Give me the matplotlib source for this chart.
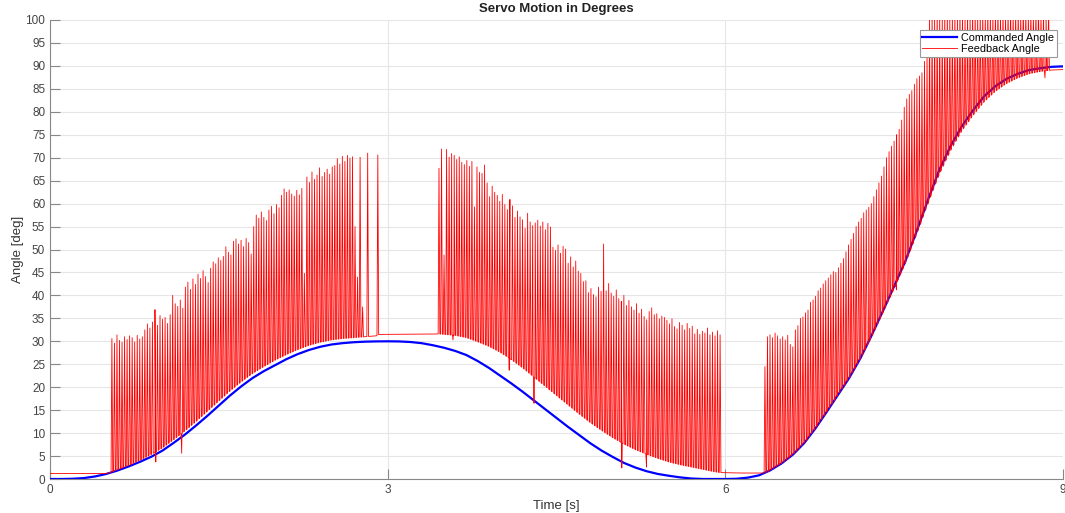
import numpy as np
import matplotlib
matplotlib.use("Agg")
from matplotlib import pyplot as plt

plt.rcParams['font.family'] = ['Liberation Sans', 'DejaVu Sans']

# commanded angle
cmd_time = [0.0, 0.1, 0.2, 0.3, 0.4, 0.5, 0.6, 0.7, 0.8, 0.9, 1.0, 1.1, 1.2, 1.3, 1.4,
            1.5, 1.6, 1.7, 1.8, 1.9, 2.0, 2.1, 2.2, 2.3, 2.4, 2.5, 2.6, 2.7, 2.8, 2.9,
            3.0, 3.1, 3.2, 3.3, 3.4, 3.5, 3.6, 3.7, 3.8, 3.9, 4.0, 4.1, 4.2, 4.3, 4.4,
            4.5, 4.6, 4.7, 4.8, 4.9, 5.0, 5.1, 5.2, 5.3, 5.4, 5.5, 5.6, 5.7, 5.8, 5.9,
            6.0, 6.1, 6.2, 6.3, 6.4, 6.5, 6.6, 6.7, 6.8, 6.9, 7.0, 7.1, 7.2, 7.3, 7.4,
            7.5, 7.6, 7.7, 7.8, 7.9, 8.0, 8.1, 8.2, 8.3, 8.4, 8.5, 8.6, 8.7, 8.8, 8.9, 9.0]
cmd_angle = [0.0, 0.0, 0.05, 0.2, 0.55, 1.1, 1.85, 2.75, 3.75, 4.85, 6.2, 7.9, 9.7, 11.7, 13.8,
             16.0, 18.2, 20.2, 22.0, 23.5, 24.8, 26.1, 27.2, 28.1, 28.8, 29.3, 29.6, 29.8, 29.92, 29.98,
             30.0, 29.97, 29.85, 29.6, 29.15, 28.6, 27.9, 27.0, 25.7, 24.2, 22.5, 20.8, 19.0, 17.1, 15.2,
             13.3, 11.4, 9.6, 7.8, 6.2, 4.8, 3.5, 2.5, 1.7, 1.1, 0.7, 0.35, 0.1, 0.0, 0.0,
             0.0, 0.05, 0.3, 0.8, 1.9, 3.4, 5.3, 7.8, 11.0, 14.6, 18.3, 22.0, 26.3, 31.3, 36.6,
             42.0, 47.5, 54.0, 60.8, 67.3, 72.5, 76.8, 80.3, 83.4, 85.6, 87.2, 88.3, 89.1, 89.5, 89.8, 89.9]

# feedback angle, lower edge of the red trace
fb_time = [0.0, 0.5, 0.55, 0.6, 0.7, 0.8, 0.9, 1.0, 1.1, 1.2, 1.3, 1.4, 1.5, 1.6, 1.7,
           1.8, 1.9, 2.0, 2.1, 2.2, 2.3, 2.4, 2.5, 2.6, 2.7, 2.8, 2.9, 2.92, 3.46,
           3.6, 3.7, 3.8, 3.9, 4.0, 4.1, 4.2, 4.3, 4.4, 4.5, 4.6, 4.7, 4.8, 4.9, 5.0,
           5.1, 5.2, 5.3, 5.4, 5.5, 5.6, 5.7, 5.8, 5.9, 5.95, 6.15, 6.35, 6.4, 6.5,
           6.6, 6.7, 6.8, 6.9, 7.0, 7.1, 7.2, 7.3, 7.4, 7.5, 7.6, 7.7, 7.8, 7.9, 8.0,
           8.1, 8.2, 8.3, 8.4, 8.5, 8.6, 8.7, 8.8, 8.9, 9.0]
fb_angle = [1.2, 1.2, 1.5, 2.0, 2.95, 4.1, 5.35, 6.8, 8.6, 10.5, 12.6, 14.8, 17.0, 19.2, 21.2,
            23.0, 24.5, 25.9, 27.1, 28.2, 29.1, 29.8, 30.3, 30.6, 30.8, 31.0, 31.2, 31.5, 31.6,
            31.3, 30.8, 29.9, 28.9, 27.6, 26.0, 24.2, 22.2, 20.2, 18.2, 16.2, 14.2, 12.3, 10.6, 9.0,
            7.6, 6.4, 5.4, 4.5, 3.7, 3.1, 2.6, 2.1, 1.6, 1.4, 1.3, 1.3, 1.9, 3.4,
            5.3, 7.8, 11.0, 14.6, 18.3, 22.0, 26.2, 31.0, 36.2, 41.5, 47.0, 53.3, 60.0, 66.3, 71.5,
            75.8, 79.2, 82.2, 84.5, 86.2, 87.4, 88.3, 88.8, 89.1, 89.2]

# feedback spike peaks, one per sample (nan = no spike)
spike_period = 0.0225
seg1_start = 0.55
seg1_peaks = [30.6, 29.6, 31.4, 30.2, 29.8, 31.0, 30.4, 31.2, 30.8, 29.9, 31.3, 30.5, 31.0,
              32.5, 33.8, 32.9, 34.2, 36.9,
              33.5, 35.6, 34.8, 35.2, 33.9, 35.8,
              40.0, 38.2, 37.6, 39.0, 37.2,
              41.8, 42.9, 41.3, 43.6, 42.4,
              44.6, 43.7, 45.4, 44.1,
              42.8, 45.9, 47.3,
              46.9, 48.2, 47.6, 48.5,
              50.6, 49.4, 48.8,
              51.8, 52.3, 51.2, 52.0, 50.6, 52.4, 51.5,
              49.0,
              55.0, 57.5, 56.8, 58.2, 57.0, 56.3, 58.6, 59.4, 57.8, 59.8, 59.1,
              61.8, 63.2, 62.5, 63.0, 62.1, 61.6, 62.9, 61.9, 63.3, 44.8,
              65.8, 64.6, 66.9, 65.3, 66.2, 67.8, 65.9, 66.8, 67.5, 66.4, 68.0, 68.3,
              69.8, 68.6, 70.3, 69.2, 70.5, 69.9, 70.2,
              55.0, 44.0, 70.1, 37.5,
              np.nan, 71.0,
              np.nan, np.nan, np.nan, 70.6]
seg2_start = 3.456
seg2_peaks = [67.7, 71.9, 48.8, 71.8, 70.1, 70.9, 70.5, 69.6, 70.2, 69.0, 68.5, 69.4, 68.1,
              69.2, 59.3, 68.0, 66.8,
              66.6, 68.4, 64.5, 61.5, 63.8, 62.5,
              61.8, 60.5, 62.0, 59.8, 58.7, 60.9, 59.5, 57.0,
              58.4, 57.1, 56.5, 54.6, 57.9, 56.0, 55.2,
              55.8, 56.4, 55.1, 56.0, 54.3, 55.7, 54.9,
              50.5, 49.8, 51.0, 49.2, 50.7, 50.1,
              47.0, 48.4, 46.2, 47.5, 45.3, 44.8, 43.0,
              43.2, 40.6, 41.5, 40.2, 39.7, 41.8, 40.9,
              51.2,
              41.0, 42.6, 40.5, 39.8, 41.2, 39.3, 38.7, 40.0, 37.8, 38.9,
              37.5, 36.8, 38.2, 36.1, 37.0, 35.4, 34.7, 36.5, 37.3, 35.8, 36.0, 34.9, 35.5,
              35.2, 34.6, 33.8, 34.9, 33.2, 32.7, 34.1, 33.5, 32.5, 33.9, 32.8, 33.3, 31.6,
              32.6, 31.5, 32.2, 31.8, 32.9, 31.4, 32.0, 31.2, 32.3, 31.4]
seg3_start = 6.352
seg3_peaks = [24.5,
              31.0, 31.4, 30.8, 31.8, 31.2, 30.5, 31.0, 30.3, 31.3, 29.3, 28.8,
              32.5, 33.4, 35.0, 35.3, 36.2, 36.8,
              38.5, 39.0, 39.8, 41.0, 41.6,
              42.5, 43.2, 43.8, 44.5, 45.2, 45.0, 46.0, 47.0,
              48.0, 49.5, 51.0, 52.2, 53.5,
              55.0, 56.0, 56.8, 58.0, 58.6, 59.2, 60.0,
              61.5, 63.0, 64.5, 66.0,
              68.0, 70.0, 71.3,
              72.5, 73.6, 75.0, 76.2,
              78.2, 81.0, 82.8, 83.8,
              84.6, 86.0, 87.2, 87.8,
              88.5, 91.0, 92.8,
              101, 102, 101, 103, 102, 101, 102, 103, 101, 102, 102, 101,
              103, 102, 101, 102, 101, 103, 102, 101, 102, 102, 101, 103,
              102, 101, 102, 103, 101, 102, 101, 102, 103, 101, 102, 102,
              101, 103, 102, 101, 102, 101, 102, 103, 101, 102, 101, 102]

# short dips below the feedback trace
dip_time = [0.94, 1.17, 3.58, 4.08, 4.30, 5.08, 5.30, 7.28, 7.52, 8.84]
dip_angle = [3.7, 5.6, 30.3, 23.7, 16.5, 2.4, 2.6, 30.8, 41.2, 87.4]

# half width of one spike (one sample up, one sample down)
half_w = 0.0075

# build the feedback trace: baseline with narrow spikes on it
ev_t = []
ev_v = []
for start, peaks in [(seg1_start, seg1_peaks), (seg2_start, seg2_peaks), (seg3_start, seg3_peaks)]:
    for i, p in enumerate(peaks):
        if not np.isnan(p):
            ev_t.append(start + i * spike_period)
            ev_v.append(p)
ev_t += dip_time
ev_v += dip_angle
ev_t = np.array(ev_t)
ev_v = np.array(ev_v)

keep = [k for k, t in enumerate(fb_time) if np.min(np.abs(ev_t - t)) > half_w]
trace_t = list(np.array(fb_time)[keep])
trace_v = list(np.array(fb_angle)[keep])
for t, v in zip(ev_t, ev_v):
    trace_t += [t - half_w, t, t + half_w]
    trace_v += [np.interp(t - half_w, fb_time, fb_angle), v, np.interp(t + half_w, fb_time, fb_angle)]
order = np.argsort(trace_t, kind='stable')
trace_t = np.array(trace_t)[order]
trace_v = np.array(trace_v)[order]

fig = plt.figure(figsize=(10.65, 5.13), dpi=100)
ax = fig.add_axes([50 / 1065, 34 / 513, 1013 / 1065, 459 / 513])

ax.plot(cmd_time, cmd_angle, color='#0000ff', lw=1.6, label='Commanded Angle', zorder=3)
ax.plot(trace_t, trace_v, color='#ff0000', lw=0.6, label='Feedback Angle', zorder=4)

ax.set_xlim(0, 9)
ax.set_ylim(0, 100)
ax.set_xticks([0, 3, 6, 9])
ax.set_yticks(np.arange(0, 101, 5))
ax.grid(True, color='#e6e6e6', lw=0.8)
ax.set_axisbelow(True)
ax.tick_params(direction='in', length=7, width=0.8, colors='#888888', labelcolor='#444444',
               labelsize=8.5)
for side in ['top', 'right']:
    ax.spines[side].set_visible(False)
for side in ['left', 'bottom']:
    ax.spines[side].set_color('#888888')

ax.set_title('Servo Motion in Degrees', fontsize=9.5, fontweight='bold', color='#222222', pad=6)
ax.set_xlabel('Time [s]', fontsize=9.5, color='#333333', labelpad=3)
ax.set_ylabel('Angle [deg]', fontsize=9.5, color='#333333', labelpad=1)

leg = ax.legend(loc='upper right', bbox_to_anchor=(0.994, 0.978), borderaxespad=0,
                fontsize=7.8, fancybox=False, edgecolor='#999999', framealpha=1,
                handlelength=3.2, borderpad=0.25, labelspacing=0.1, handletextpad=0.4)
leg.get_frame().set_linewidth(0.8)
leg.set_zorder(10)

plt.savefig('out.png', dpi=100)
